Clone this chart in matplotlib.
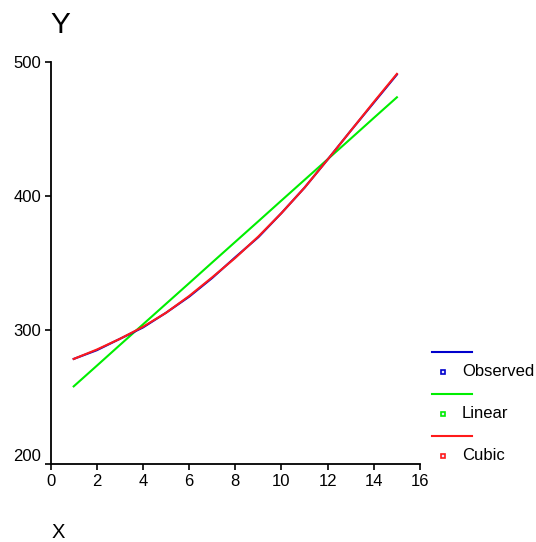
import matplotlib
matplotlib.use("Agg")
import matplotlib.pyplot as plt
from matplotlib.lines import Line2D

plt.rcParams['font.family'] = ['Liberation Sans', 'DejaVu Sans']

x_vals = [1, 2, 3, 4, 5, 6, 7, 8, 9, 10, 11, 12, 13, 14, 15]
observed = [278.5, 285.0, 293.5, 302.0, 313.0, 325.0, 339.0, 354.5, 369.5, 387.5, 406.5, 427.5, 449.0, 470.0, 491.0]
linear = [258.0, 273.4, 288.9, 304.3, 319.7, 335.1, 350.6, 366.0, 381.4, 396.9, 412.3, 427.7, 443.1, 458.6, 474.0]
cubic = [278.5, 285.5, 293.5, 302.5, 313.0, 325.5, 339.5, 354.0, 370.0, 387.5, 406.5, 427.5, 449.0, 470.5, 491.5]
series_names = ["Observed", "Linear", "Cubic"]
series_colors = ["#0000CC", "#00EE00", "#FF1A1A"]
x_ticks = [0, 2, 4, 6, 8, 10, 12, 14, 16]
y_ticks = [200, 300, 400, 500]

W, H = 536, 542
fig = plt.figure(figsize=(W / 100, H / 100), dpi=100)
ax = fig.add_axes([50.6 / W, 1 - 464 / H, (420 - 50.6) / W, (464 - 62.5) / H])

ax.plot(x_vals, linear, color=series_colors[1], lw=1.5, zorder=2)
ax.plot(x_vals, observed, color=series_colors[0], lw=1.5, zorder=3)
ax.plot(x_vals, cubic, color=series_colors[2], lw=1.5, zorder=4)

ax.set_xlim(0, 16)
ax.set_ylim(200, 500)
ax.set_xticks(x_ticks)
ax.set_yticks(y_ticks)
for s in ["top", "right"]:
    ax.spines[s].set_visible(False)
for s in ["left", "bottom"]:
    ax.spines[s].set_linewidth(1.3)
ax.tick_params(direction="out", length=4, width=1.2, labelsize=12, pad=3)
ax.get_yticklabels()[0].set_verticalalignment("bottom")

fig.text(60 / W, 1 - 25 / H, "Y", fontsize=21.5, ha="center", va="center")
fig.text(58 / W, 1 - 533 / H, "X", fontsize=14.5, ha="center", va="center")

# legend (manual, SPSS style)
line_y = [352, 394, 436]
for name, col, ly in zip(series_names, series_colors, line_y):
    fig.add_artist(Line2D([432 / W, 472 / W], [1 - ly / H, 1 - ly / H],
                          color=col, lw=1.5, transform=fig.transFigure))
    my = ly + 20
    fig.add_artist(Line2D([443 / W], [1 - my / H], marker="s", markersize=3.5,
                          markerfacecolor="#e8e8ff", markeredgecolor=col,
                          markeredgewidth=1.2, linestyle="none",
                          transform=fig.transFigure))
    fig.text(462 / W, 1 - my / H, name, fontsize=12, ha="left", va="center")

fig.savefig("out.png", dpi=100)
